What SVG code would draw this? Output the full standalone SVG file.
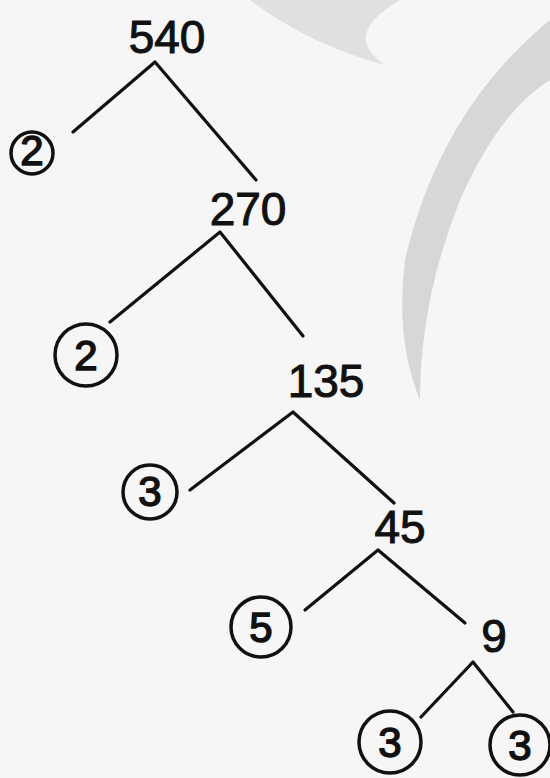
<svg xmlns="http://www.w3.org/2000/svg" width="550" height="778" viewBox="0 0 550 778">
<style>
.num{font-family:"Liberation Sans",Arial,sans-serif;font-size:46px;fill:#111;stroke:#111;stroke-width:1;text-anchor:middle}
.leaf{font-family:"Liberation Sans",Arial,sans-serif;font-size:42px;fill:#111;stroke:#111;stroke-width:1.5;text-anchor:middle}
.ring{fill:none;stroke:#111;stroke-width:3.5}
.edge{fill:none;stroke:#111;stroke-width:3.2;stroke-linecap:round;stroke-linejoin:round}
</style>
<rect width="550" height="778" fill="#f6f6f6"/>
<path d="M250,0 L400,0 Q340,35 385,65 Q310,45 250,0 Z" fill="#d2d2d2" opacity="0.6"/>
<path d="M550,20 Q440,110 405,260 Q395,340 420,400 Q420,300 460,200 Q500,110 550,80 Z" fill="#bdbdbd" opacity="0.55"/>
<g id="connectors">
<path class="edge" d="M73,132 L155,62 L256,180"/>
<path class="edge" d="M110,322 L220,232 L303,336"/>
<path class="edge" d="M190,490 L293,412 L394,503"/>
<path class="edge" d="M305,610 L378,550 L465,623"/>
<path class="edge" d="M421,717 L473,662 L513,712"/>
</g>
<g id="n540"><text class="num" x="167" y="53">540</text></g>
<g id="n2a"><circle class="ring" cx="32" cy="153" r="21"/><text class="leaf" x="32" y="165" font-size="32">2</text></g>
<g id="n270"><text class="num" x="248" y="225">270</text></g>
<g id="n2b"><circle class="ring" cx="86" cy="355" r="31"/><text class="leaf" x="86" y="370">2</text></g>
<g id="n135"><text class="num" x="326" y="397">135</text></g>
<g id="n3a"><circle class="ring" cx="150" cy="492" r="27"/><text class="leaf" x="150" y="506" font-size="38">3</text></g>
<g id="n45"><text class="num" x="400" y="543">45</text></g>
<g id="n5"><circle class="ring" cx="261" cy="627" r="30"/><text class="leaf" x="261" y="642">5</text></g>
<g id="n9"><text class="num" x="494" y="652">9</text></g>
<g id="n3b"><circle class="ring" cx="390" cy="742" r="31"/><text class="leaf" x="390" y="757">3</text></g>
<g id="n3c"><circle class="ring" cx="520" cy="745" r="30"/><text class="leaf" x="520" y="760">3</text></g>
</svg>
